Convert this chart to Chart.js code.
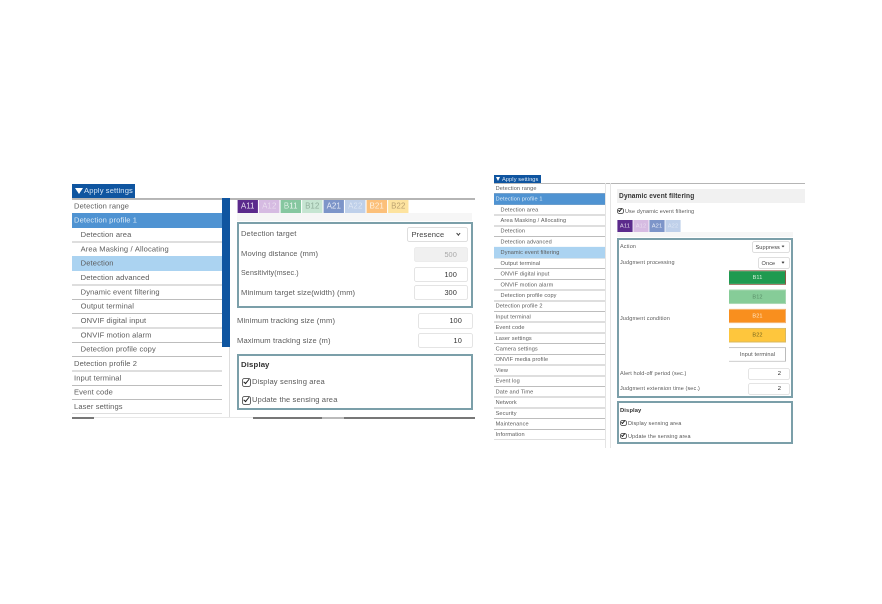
<!DOCTYPE html>
<html><head><meta charset="utf-8">
<script src="https://cdn.jsdelivr.net/npm/chart.js@4/dist/chart.umd.min.js"></script>
<style>
html,body{margin:0;padding:0;background:#fff;width:882px;height:604px;overflow:hidden}
#page{position:absolute;left:0;top:0;width:882px;height:604px;filter:blur(.35px);font-family:"Liberation Sans",sans-serif;color:#5c5c5c}
#page>*{position:absolute;box-sizing:border-box}
canvas{position:absolute}
.t{white-space:nowrap;letter-spacing:.12px;will-change:transform}
.b{font-weight:700;color:#333}
.inp{background:#fff;border:1px solid #e4e4e4;border-radius:2px;text-align:right;color:#333;white-space:nowrap;letter-spacing:.1px;will-change:transform}
.sel{background:#fff;border:1px solid #dedede;border-radius:2px;color:#444;white-space:nowrap;letter-spacing:.1px;will-change:transform}
.dis{background:#f0f0f0;border-color:#ececec;color:#aaa}
.chev{border-right:1px solid #444;border-bottom:1px solid #444;transform:rotate(45deg)}
.chk{border:1px solid #666;border-radius:2px;background:#fff}
.tick{border-right:1.6px solid #222;border-bottom:1.6px solid #222;transform:rotate(40deg)}
.boxed{border:2px solid #7b9fa9;background:#fff}
</style></head><body><div id="page"></div>
<script>
// ---------- data ----------
const menuLeft = ["Detection range","Detection profile 1","Detection area","Area Masking / Allocating","Detection","Detection advanced","Dynamic event filtering","Output terminal","ONVIF digital input","ONVIF motion alarm","Detection profile copy","Detection profile 2","Input terminal","Event code","Laser settings"];
const menuLeftIndent = [0,0,1,1,1,1,1,1,1,1,1,0,0,0,0];
const menuLeftActive = [0,1,0,0,1,0,0,0,0,0,0,0,0,0,0];
const menuRight = ["Detection range","Detection profile 1","Detection area","Area Masking / Allocating","Detection","Detection advanced","Dynamic event filtering","Output terminal","ONVIF digital input","ONVIF motion alarm","Detection profile copy","Detection profile 2","Input terminal","Event code","Laser settings","Camera settings","ONVIF media profile","View","Event log","Date and Time","Network","Security","Maintenance","Information"];
const menuRightIndent = [0,0,1,1,1,1,1,1,1,1,1,0,0,0,0,0,0,0,0,0,0,0,0,0];
const menuRightActive = [0,1,0,0,0,0,1,0,0,0,0,0,0,0,0,0,0,0,0,0,0,0,0,0];
const tabsLeft = ["A11","A12","B11","B12","A21","A22","B21","B22"];
const tabsLeftOn = [1,1,1,1,1,1,1,1];
const tabsRight = ["A11","A12","A21","A22"];
const tabsRightOn = [1,1,1,1];
const conditions = ["B11","B12","B21","B22","Input terminal"];
const conditionsOn = [1,1,1,1,1];
// ---------- colours ----------
const tabColorsLeft = ["#5b2a8c","#d6bbe2","#86c7a0","#c6e5d2","#7d95c9","#bfd0ea","#fcc07a","#fde39f"];
const tabTextLeft = ["#e8dff0","#e9dcef","#e4f3ea","#8fae9b","#e9eef8","#dde6f4","#ffeeda","#b9a070"];
const tabColorsRight = ["#5b2a8c","#d6bbe2","#7d95c9","#bfd0ea"];
const tabTextRight = ["#e8dff0","#e9dcef","#e9eef8","#dde6f4"];
const condColors = ["#1f9a50","#86cc98","#f98f1e","#fec63d","#ffffff"];
const condBorders = ["#8a5a44","#a6d6b0","#f2b070","#d8b860","#bbbbbb"];
const condText = ["#d8f0dc","#5a8f68","#ffe7c8","#7a6a20","#555555"];
const FONT = '"Liberation Sans",sans-serif';

const page = document.getElementById('page');
function el(cls,x,y,w,h,txt,extra){const d=document.createElement('div');d.className=cls||'';
  d.style.cssText=`left:${x}px;top:${y}px;`+(w!=null?`width:${w}px;`:'')+(h!=null?`height:${h}px;`:'')+(extra||'');
  if(txt!=null)d.textContent=txt;page.appendChild(d);return d;}
function rect(x,y,w,h,c){return el('',x,y,w,h,null,`background:${c};`);}
function text(x,cy,s,size,cls,extra){return el('t '+(cls||''),x,cy-10,null,20,s,`line-height:20px;font-size:${size}px;`+(extra||''));}
function input(x,y,w,h,s,size,cls){return el('inp '+(cls||''),x,y,w,h,s,`line-height:${h-2}px;font-size:${size}px;padding-right:${size*1.35}px;`);}
function select(x,y,w,h,s,size){el('sel',x,y,w,h,s,`line-height:${h-2}px;font-size:${size}px;padding-left:${size*.45}px;`);
  const c=size*.36;el('chev',x+w-size*1.4,y+h/2-c*.75,c,c);}
function check(x,cy,sz){el('chk',x,cy-sz/2,sz,sz);el('tick',x+sz*.32,cy-sz*.42,sz*.36,sz*.62);}

const barText={id:'barText',afterDatasetsDraw(ch,a,o){if(!o.font)return;const c=ch.ctx;const m=ch.getDatasetMeta(0);c.save();
  c.font=o.font;c.textAlign='center';c.textBaseline='middle';c.letterSpacing=o.spacing||'0.1px';
  m.data.forEach((e,i)=>{const p=e.getCenterPoint();c.fillStyle=o.colors[i];c.fillText(ch.data.labels[i],p.x,p.y);});c.restore();}};

function mount(x,y,w,h){const cv=document.createElement('canvas');cv.width=w;cv.height=h;cv.style.cssText=`left:${x}px;top:${y}px;width:${w}px;height:${h}px`;page.appendChild(cv);return cv;}

function menuChart(x,y,w,h,labels,indent,active,size,pad,step,spacing,colors){
  new Chart(mount(x,y,w,h),{type:'bar',
   data:{labels,datasets:[{data:active,backgroundColor:labels.map((l,i)=>active[i]?(indent[i]?colors[1]:colors[0]):'transparent'),barPercentage:1,categoryPercentage:1}]},
   plugins:[{id:'ls',beforeDraw(c){c.ctx.letterSpacing=spacing;}}],
   options:{indexAxis:'y',responsive:false,animation:false,devicePixelRatio:2,layout:{padding:0},
    plugins:{legend:{display:false},tooltip:{enabled:false}},
    scales:{x:{display:false,min:0,max:1},
     y:{grid:{color:'#bdbdbd',lineWidth:1,drawTicks:false},border:{display:false},
        afterFit(s){s.paddingTop=0;s.paddingBottom=0;s.width=0;},
        ticks:{z:1,mirror:true,autoSkip:false,padding:pad,font:{family:FONT,size},
         color:c=>active[c.index]&&!indent[c.index]?'#dcebf7':'#5c5c5c',
         callback(v,i){return (indent[i]?' '.repeat(step):'')+labels[i];}}}}}});
}
function tabChart(x,y,w,h,labels,on,colors,txt,size){
  new Chart(mount(x,y,w,h),{type:'bar',plugins:[barText],
   data:{labels,datasets:[{data:on,backgroundColor:colors,barPercentage:.95,categoryPercentage:1}]},
   options:{responsive:false,animation:false,devicePixelRatio:2,layout:{padding:0},
    plugins:{legend:{display:false},tooltip:{enabled:false},barText:{font:`${size}px ${FONT}`,colors:txt}},
    scales:{x:{display:false},y:{display:false,min:0,max:1}}}});
}

// ===== left panel =====
rect(72,198,403,1.5,'#b5b5b5');
el('',72,184,63,14,null,'background:#0f55a0;');
el('t',84,184,null,14,'Apply settings','color:#cfe0f2;font-size:7.6px;line-height:14px;');
el('',75,188,0,0,null,'border-left:4px solid transparent;border-right:4px solid transparent;border-top:6px solid #fff;');
menuChart(72,199,150,215,menuLeft,menuLeftIndent,menuLeftActive,7.55,2,3,'0.12px',['#4f93d2','#abd3f1']);
rect(222,198,8,149,'#0f55a0');
rect(229,347,1,70,'#dddddd');
rect(72,416.5,22,2,'#777');rect(94,417,159,1,'#e8e8e8');rect(253,416.5,69,2,'#777');rect(322,416.5,22,2,'#bbb');rect(344,416.5,131,2,'#777');

tabChart(237,200,171.5,13,tabsLeft,tabsLeftOn,tabColorsLeft,tabTextLeft,7.8);
rect(237,213,235,8,'#f6f6f6');
el('boxed',237,222,236,86);
text(241,234,'Detection target',7.6);
select(407,227,61,15,'Presence',7.6);
text(241,254,'Moving distance (mm)',7.6);
input(414,247,54,15,'500',7.4,'dis');
text(241,273,'Sensitivity(msec.)',7.1);
input(414,267,54,15,'100',7.4);
text(241,292.5,'Minimum target size(width)  (mm)',7.6);
input(414,285,54,15,'300',7.4);
text(237,321,'Minimum tracking size (mm)',7.6);
input(418,313,55,16,'100',7.4);
text(237,340.5,'Maximum tracking size (m)',7.6);
input(418,333,55,15,'10',7.4);
el('boxed',237,354,236,56);
text(241,365,'Display',7.8,'b');
check(242,382,9);text(252,382,'Display sensing area',7.6);
check(242,400,9);text(252,400,'Update the sensing area',7.6);

// ===== right panel =====
rect(494,183,311,1,'#b5b5b5');
el('',494,175,47,8,null,'background:#0f55a0;');
el('t',502,175,null,8,'Apply settings','color:#dbe8f5;font-size:5.6px;line-height:8px;');
el('',496,177,0,0,null,'border-left:2.5px solid transparent;border-right:2.5px solid transparent;border-top:4px solid #fff;');
menuChart(494,183.3,111,257,menuRight,menuRightIndent,menuRightActive,5.6,1.6,3,'0.1px',['#4f93d2','#abd3f1']);
rect(605,183,1,265,'#e4e4e4');rect(610,183,1,265,'#e4e4e4');

rect(617,189,188,14,'#f1f1f1');
text(619,196,'Dynamic event filtering',6.6,'b');
check(617,211,6.5);text(625,211,'Use dynamic event filtering',5.5);
tabChart(616.5,220,64,12,tabsRight,tabsRightOn,tabColorsRight,tabTextRight,5.8);
rect(617,232,176,5,'#f6f6f6');
el('boxed',617,238,176,160);
text(620,246,'Action',5.5);
select(752,241,38,12,'Suppress',5.6);
text(620,262,'Judgment processing',5.5);
select(758,257,32,12,'Once',5.6);
text(620,318,'Judgment condition',5.5);
new Chart(mount(727,268,61,96),{type:'bar',plugins:[barText],
 data:{labels:conditions,datasets:[{data:conditionsOn,backgroundColor:condColors,borderColor:condBorders,borderWidth:1,barPercentage:.76,categoryPercentage:1}]},
 options:{indexAxis:'y',responsive:false,animation:false,devicePixelRatio:2,layout:{padding:{left:2,right:2,top:0,bottom:0}},
  plugins:{legend:{display:false},tooltip:{enabled:false},barText:{font:`5.6px ${FONT}`,colors:condText}},
  scales:{x:{display:false,min:0,max:1},y:{display:false}}}});
text(620,373,'Alert hold-off period (sec.)',5.5);
input(748,368,42,11.5,'2',5.8);
text(620,388,'Judgment extension time (sec.)',5.5);
input(748,383,42,11.5,'2',5.8);
el('boxed',617,401,176,43);
text(620,410,'Display',5.8,'b');
check(620,423,6.5);text(628,423,'Display sensing area',5.5);
check(620,436,6.5);text(628,436,'Update the sensing area',5.5);
</script></body></html>
